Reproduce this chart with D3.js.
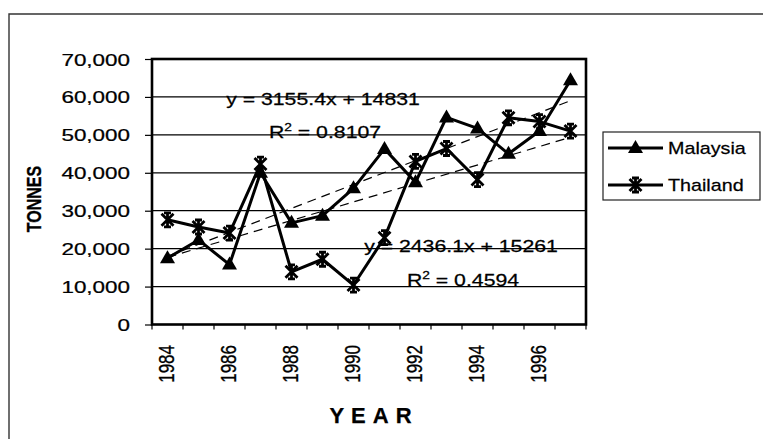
<!DOCTYPE html>
<html><head><meta charset="utf-8">
<script src="https://cdn.jsdelivr.net/npm/d3@7"></script>
<style>body{margin:0;background:#fff}svg{display:block}text{font-family:"Liberation Sans",Arial,sans-serif;fill:#000;stroke:#000;stroke-width:0.25px}</style>
</head><body><svg id="c" width="763" height="439"></svg>
<script>
const years = [1984,1985,1986,1987,1988,1989,1990,1991,1992,1993,1994,1995,1996,1997];
const malaysia = [17500,22300,15800,40000,26800,28700,35900,46300,37500,54600,51700,45000,51000,64400];
const thailand = [27600,25700,24100,42300,13900,17200,10400,22900,43000,46400,38200,54500,53500,51000];
const yTicks = [0,10000,20000,30000,40000,50000,60000,70000];
const xLabelYears = [1984,1986,1988,1990,1992,1994,1996];
const seriesNames = ["Malaysia","Thailand"];
const trendSlopes = [3155.4, 2436.1];
const trendIntercepts = [14831, 15261];
const trendEq = ["y = 3155.4x + 14831","y = 2436.1x + 15261"];
const trendR2 = ["0.8107","0.4594"];

const svg = d3.select("#c");
const L=152, R=586, T=59, B=324.5;
const SX=1.25;
const x = d3.scaleBand().domain(years).range([L,R]).paddingInner(0).paddingOuter(0);
const cx = d => x(d)+x.bandwidth()/2;
const y = d3.scaleLinear().domain([0,70000]).range([B,T]);

svg.append("path").attr("d","M9,439 V14 H763").attr("fill","none").attr("stroke","#333").attr("stroke-width",1.4);

svg.append("g").selectAll("line").data(yTicks.filter(v=>v>0&&v<70000)).join("line")
  .attr("x1",L).attr("x2",R).attr("y1",d=>y(d)).attr("y2",d=>y(d))
  .attr("stroke","#000").attr("stroke-width",1.2);

const ya = svg.append("g").attr("transform",`translate(${L},0)`)
  .call(d3.axisLeft(y).tickValues(yTicks).tickSize(7).tickFormat(d3.format(",")));
ya.select(".domain").remove();
ya.selectAll("line").attr("stroke","#000").attr("stroke-width",1.2);
ya.selectAll("text").each(function(d){
  d3.select(this).attr("x",null).attr("dy",null).attr("text-anchor","end").style("font-size","17px")
   .attr("transform",`translate(-22,6) scale(1.32,1)`);
});

const bounds = years.map(d=>x(d)).concat([R]);
svg.append("g").selectAll("line").data(bounds).join("line")
  .attr("x1",d=>d).attr("x2",d=>d).attr("y1",B).attr("y2",B+5)
  .attr("stroke","#000").attr("stroke-width",1.2);
svg.append("g").selectAll("text").data(xLabelYears).join("text")
  .attr("text-anchor","end").style("font-size","17px")
  .attr("transform",d=>`translate(${cx(d)+6.5},345) scale(1.35,1) rotate(-90)`)
  .text(d=>d);

const xs = [1, years.length];
[0,1].forEach(i=>{
  svg.append("line")
    .attr("x1",cx(years[0])).attr("x2",cx(years[years.length-1]))
    .attr("y1",y(trendSlopes[i]*xs[0]+trendIntercepts[i]))
    .attr("y2",y(trendSlopes[i]*xs[1]+trendIntercepts[i]))
    .attr("stroke","#000").attr("stroke-width",1.2).attr("stroke-dasharray","9,6");
});

const line = d3.line().x((d,i)=>cx(years[i])).y(d=>y(d));
[malaysia,thailand].forEach(s=>{
  svg.append("path").attr("d",line(s)).attr("fill","none").attr("stroke","#000").attr("stroke-width",3).attr("stroke-linejoin","round");
});

const triPath = "M0,-8 L7.5,5 L-7.5,5 Z";
const starPath = "M0,-7 V7 M-6,-6 L6,6 M6,-6 L-6,6 M-3.5,-7 H3.5 M-3.5,7 H3.5";
function tri(g,px,py){ g.append("path").attr("d",triPath).attr("transform",`translate(${px},${py})`).attr("fill","#000"); }
function star(g,px,py){ g.append("path").attr("d",starPath).attr("transform",`translate(${px},${py})`).attr("fill","none").attr("stroke","#000").attr("stroke-width",2.8); }
const mg = svg.append("g");
malaysia.forEach((v,i)=>tri(mg,cx(years[i]),y(v)));
thailand.forEach((v,i)=>star(mg,cx(years[i]),y(v)));

svg.append("rect").attr("x",L).attr("y",T).attr("width",R-L).attr("height",B-T)
  .attr("fill","none").attr("stroke","#000").attr("stroke-width",2.6);

function eqText(cxp, by, str){
  svg.append("text").attr("text-anchor","middle").style("font-size","17px")
    .attr("transform",`translate(${cxp},${by}) scale(${SX},1)`).text(str);
}
function r2Text(cxp, by, val){
  const t = svg.append("text").attr("text-anchor","middle").style("font-size","17px")
    .attr("transform",`translate(${cxp},${by}) scale(${SX},1)`);
  t.append("tspan").text("R");
  t.append("tspan").attr("dy",-7).style("font-size","11px").text("2");
  t.append("tspan").attr("dy",7).text(" = "+val);
}
eqText(323,105,trendEq[0]);
r2Text(325,138,trendR2[0]);
eqText(461,252,trendEq[1]);
r2Text(463,286,trendR2[1]);

svg.append("text").attr("text-anchor","middle").style("font-size","16px").style("font-weight","bold")
  .attr("transform",`translate(41,199) scale(1.3,1) rotate(-90)`).text("TONNES");
svg.append("text").attr("text-anchor","middle").style("font-size","22px").style("font-weight","bold")
  .style("letter-spacing","7px").attr("x",374).attr("y",423).text("YEAR");

const lg = svg.append("g");
lg.append("rect").attr("x",603).attr("y",132).attr("width",157).attr("height",68)
  .attr("fill","#fff").attr("stroke","#222").attr("stroke-width",1.2);
seriesNames.forEach((n,i)=>{
  const ly = 148 + i*37;
  lg.append("line").attr("x1",608).attr("x2",663).attr("y1",ly).attr("y2",ly).attr("stroke","#000").attr("stroke-width",3);
  if(i===0) tri(lg,635.5,ly); else star(lg,635.5,ly);
  lg.append("text").style("font-size","17px").attr("transform",`translate(668,${ly+6}) scale(1.16,1)`).text(n);
});
</script></body></html>
